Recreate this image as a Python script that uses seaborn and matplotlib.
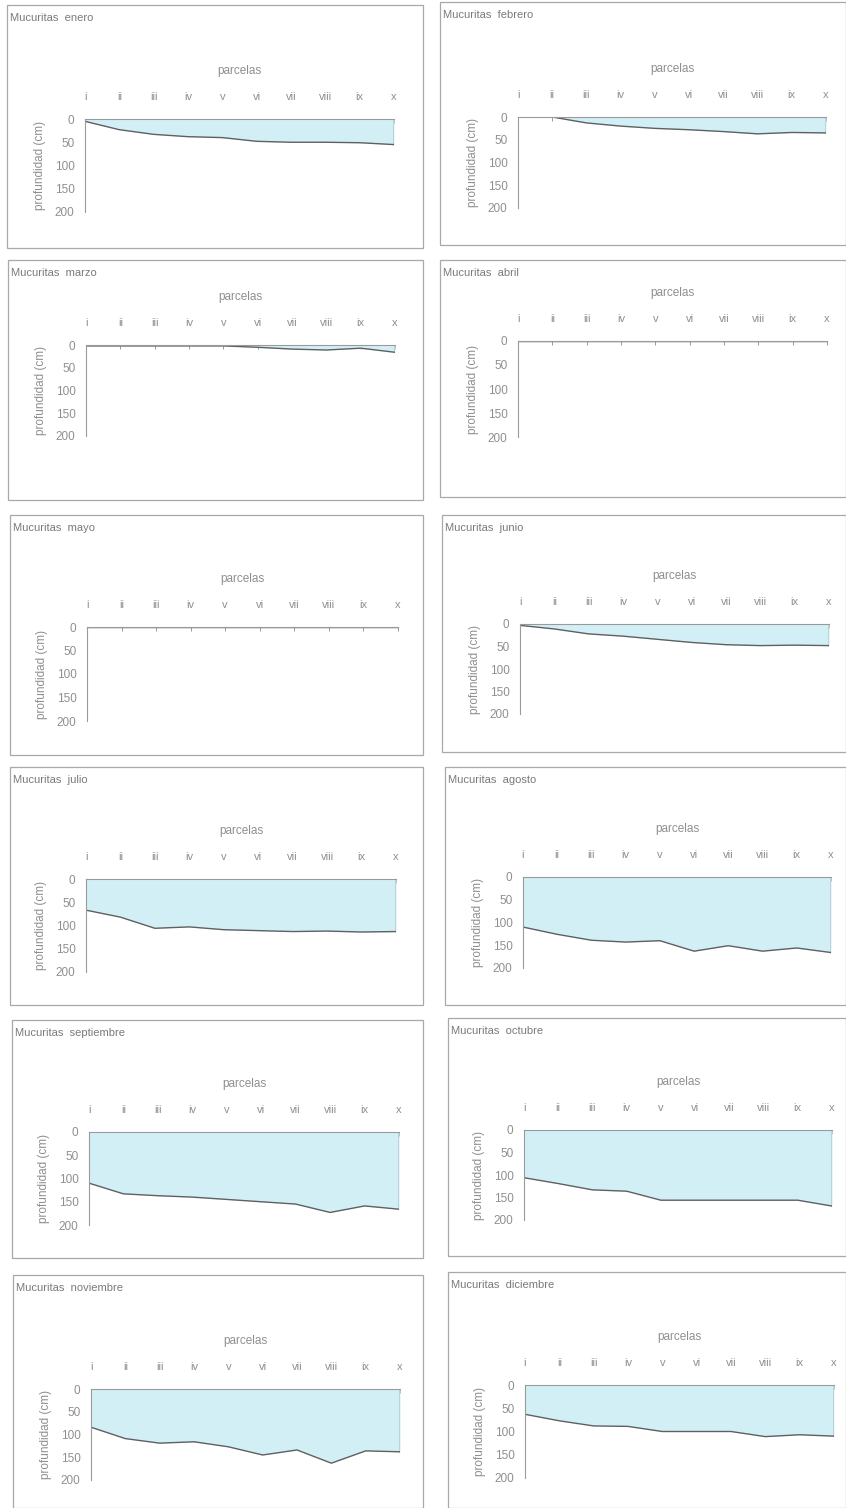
import numpy as np
import pandas as pd
import matplotlib
matplotlib.use("Agg")
import matplotlib.pyplot as plt
import seaborn as sns
from matplotlib.patches import Rectangle

sns.set_theme(style="white")
plt.rcParams["font.family"] = ["Liberation Sans", "DejaVu Sans"]

# ---------------- data ----------------
parcelas = ["i", "ii", "iii", "iv", "v", "vi", "vii", "viii", "ix", "x"]
y_ticks = [0, 50, 100, 150, 200]

meses = ["enero", "febrero", "marzo", "abril", "mayo", "junio",
         "julio", "agosto", "septiembre", "octubre", "noviembre", "diciembre"]

enero      = [5, 23, 33, 38, 40, 48, 50, 50, 51, 55]
febrero    = [0, 0, 13, 20, 25, 28, 32, 37, 34, 35]
marzo      = [2, 2, 2, 2, 2, 5, 9, 11, 7, 16]
abril      = [0, 0, 0, 0, 0, 0, 0, 0, 0, 0]
mayo       = [0, 0, 0, 0, 0, 0, 0, 0, 0, 0]
junio      = [3, 11, 22, 27, 34, 41, 46, 48, 47, 48]
julio      = [67, 82, 106, 103, 109, 111, 113, 112, 114, 113]
agosto     = [110, 126, 139, 143, 140, 163, 151, 163, 156, 166]
septiembre = [110, 133, 137, 140, 145, 150, 155, 173, 159, 166]
octubre    = [106, 119, 133, 136, 156, 156, 156, 156, 156, 169]
noviembre  = [84, 109, 119, 116, 127, 145, 134, 163, 136, 138]
diciembre  = [63, 77, 88, 89, 100, 100, 100, 111, 107, 110]

series = [enero, febrero, marzo, abril, mayo, junio,
          julio, agosto, septiembre, octubre, noviembre, diciembre]

# ---------------- layout (pixels) ----------------
W, H = 846, 1508
# panel frame boxes (x0, y0, x1, y1)
boxes = [(7, 5, 423, 248), (440, 2, 846, 245),
         (8, 260, 423, 500), (440, 260, 846, 497),
         (10, 515, 423, 755), (442, 515, 846, 752),
         (10, 767, 423, 1005), (445, 767, 846, 1005),
         (12, 1020, 423, 1258), (448, 1018, 846, 1256),
         (13, 1275, 423, 1508), (448, 1272, 846, 1508)]
# plotting areas (left, right, top, bottom)
areas = [(85, 394, 119, 212), (518, 826, 117, 208),
         (86, 395, 345, 436), (518, 827, 341, 437),
         (87, 398, 627, 721), (520, 829, 624, 714),
         (86, 396, 879, 972), (523, 831, 877, 968),
         (89, 399, 1132, 1225), (524, 832, 1130, 1220),
         (91, 400, 1389, 1480), (525, 834, 1385, 1478)]

FILL = "#d3eff6"
LINE = "#5f6060"
TXT = "#8f8f8f"
SPINE = "#9a9a9a"

fig = plt.figure(figsize=(W / 100, H / 100), dpi=100)
fig.patch.set_facecolor("white")

for mes, vals, box, area in zip(meses, series, boxes, areas):
    bx0, by0, bx1, by1 = box
    fig.add_artist(Rectangle((bx0 / W, 1 - by1 / H), (bx1 - bx0) / W, (by1 - by0) / H,
                             transform=fig.transFigure, fill=False,
                             edgecolor="#a8a8a8", linewidth=0.9))
    fig.text((bx0 + 3) / W, 1 - (by0 + 13) / H, f"Mucuritas  {mes}",
             fontsize=8, color="#7a7a7a", va="center", ha="left")

    l, r, t, b = area
    ax = fig.add_axes([l / W, 1 - b / H, (r - l) / W, (b - t) / H])
    ax.set_facecolor("none")

    df = pd.DataFrame({"pos": np.arange(len(parcelas)), "prof": vals})
    ax.fill_between(df["pos"], 0, df["prof"], color=FILL, linewidth=0)
    sns.lineplot(data=df, x="pos", y="prof", ax=ax, color=LINE, linewidth=1.0)
    ax.vlines(df["pos"].iloc[-1], 0, df["prof"].iloc[-1], color=LINE, linewidth=1.0)

    ax.set_xlim(0, len(parcelas) - 1)
    ax.set_ylim(200, 0)
    ax.set_xticks(df["pos"])
    ax.set_xticklabels(parcelas)
    ax.set_yticks(y_ticks)
    ax.set_yticklabels([str(v) for v in y_ticks])
    ax.xaxis.set_ticks_position("top")
    ax.xaxis.set_label_position("top")
    ax.tick_params(axis="x", which="both", direction="in", length=3, width=0.7,
                   color=SPINE, labelsize=8, labelcolor=TXT, pad=12)
    ax.tick_params(axis="y", which="both", direction="out", length=2.5, width=0.7,
                   color=SPINE, labelsize=8.5, labelcolor=TXT, pad=5)
    ax.set_xlabel("parcelas", fontsize=8.5, color=TXT, labelpad=13)
    ax.set_ylabel("profundidad (cm)", fontsize=8.5, color=TXT, labelpad=6)
    for s in ["right", "bottom"]:
        ax.spines[s].set_visible(False)
    for s in ["top", "left"]:
        ax.spines[s].set_color(SPINE)
        ax.spines[s].set_linewidth(0.8)

fig.savefig("out.png", dpi=100, facecolor="white")
